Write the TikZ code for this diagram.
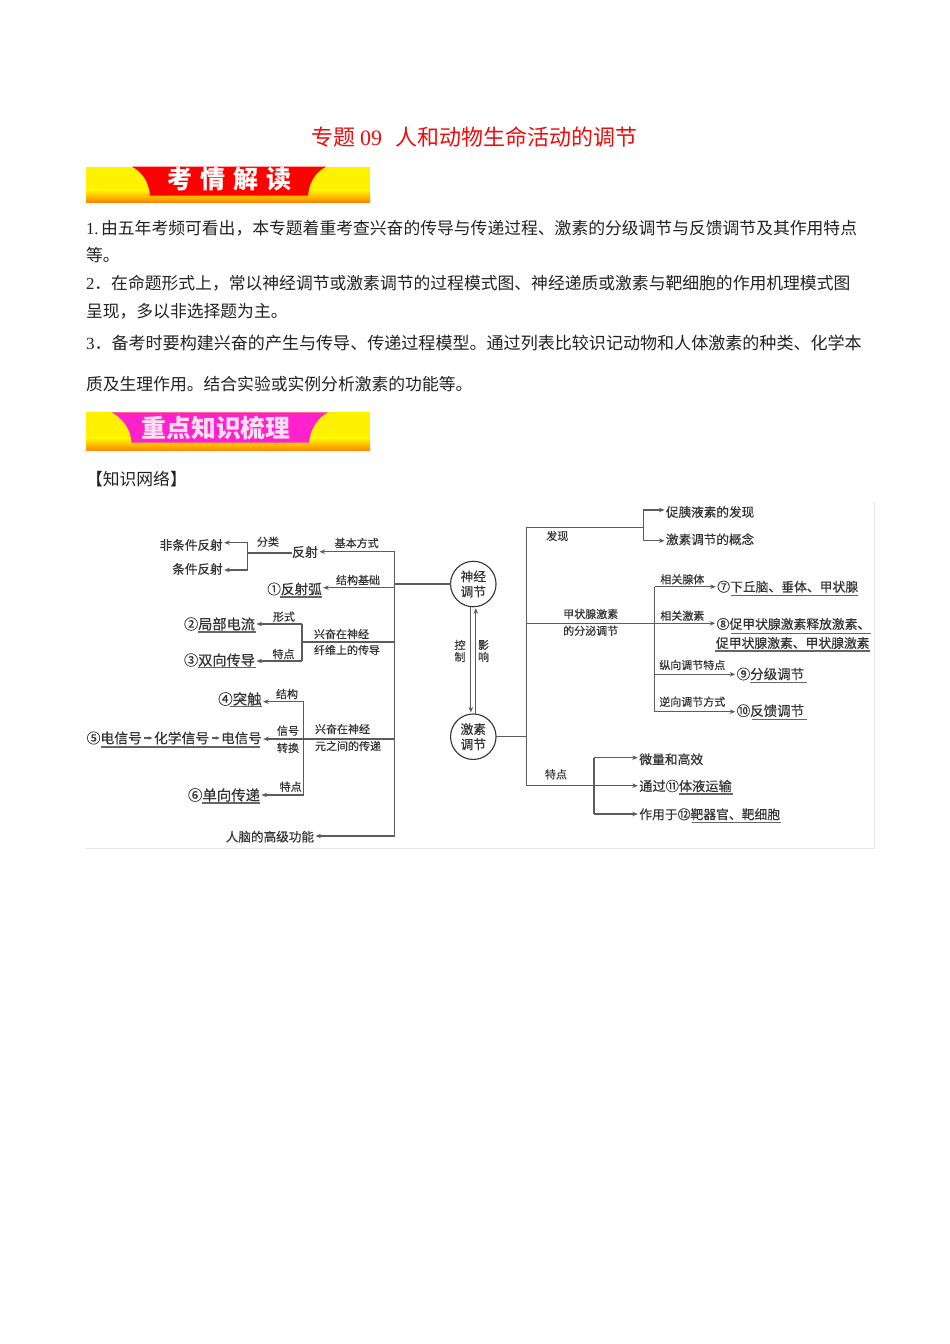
\documentclass[tikz,border=0pt]{standalone}
\usepackage{fontspec}
\setmainfont{Liberation Serif}
\newfontfamily\cjk{Noto Sans CJK SC}
\newfontfamily\cjkd[FakeBold=0.35]{Noto Sans CJK SC}
\usetikzlibrary{arrows.meta}
\newcommand{\fp}[1]{\fontsize{#1}{#1}\selectfont\cjk}
\newcommand{\fs}[1]{\fontsize{#1}{#1}\selectfont\cjkd}
\definecolor{ink}{HTML}{333333}
\definecolor{bodyink}{HTML}{222222}
\definecolor{titlered}{HTML}{EE0D0D}
\definecolor{banorange}{HTML}{FF8500}
\definecolor{banpink}{HTML}{FF22CC}
\definecolor{bantext}{HTML}{FFE0F2}
\tikzset{
  lab/.style={inner sep=0pt,outer sep=0pt,text=ink,font=\fs{11}},
  big/.style={inner sep=0pt,outer sep=0pt,text=ink,font=\fs{13}},
  para/.style={inner sep=0pt,outer sep=0pt,anchor=west,text=bodyink,font=\fp{16.8}},
  wire/.style={draw=ink!80,line width=1.1pt},
  arr/.style={wire,-{Stealth[length=5.5pt,width=4.5pt]},shorten >=1.5pt},
  uline/.style={draw=ink!75,line width=1.1pt},
  hub/.style={circle,draw=ink,line width=1.1pt,minimum size=45.5pt,inner sep=0pt,outer sep=0pt,align=center,text=ink,font=\fs{12.7}},
}
\begin{document}
\begin{tikzpicture}[x=1pt,y=-1pt]
\useasboundingbox (0,0) rectangle (950,1344);
\fill[white] (0,0) rectangle (950,1344);

% title
\node[inner sep=0pt,anchor=west,text=titlered,font=\fp{22}] (title) at (311.5,137) {专题\hspace{4.5pt}{\rmfamily 09}\hspace{13pt}人和动物生命活动的调节};

% banner 1
\fill[yellow] (86,166.5) rectangle (370,202);
\shade[top color=yellow,bottom color=banorange] (86,189) rectangle (370,202);
\fill[red] (131.5,166.5) .. controls (143,172) and (149,183) .. (150,195.5) -- (308,195.5) .. controls (309,183) and (315,172) .. (326.5,166.5) -- cycle;
\node[inner sep=0pt,text=white,font=\fp{25}\bfseries] (ban1) at (229,179.5) {考\hspace{8pt}情\hspace{8pt}解\hspace{8pt}读};

% paragraphs
\node[para] (p1) at (86,228) {{\rmfamily 1.}\hspace{2.5pt}由五年考频可看出，本专题着重考查兴奋的传导与传递过程、激素的分级调节与反馈调节及其作用特点};
\node[para] (p2) at (86,255) {等。};
\node[para] (p3) at (86,283) {{\rmfamily 2}．在命题形式上，常以神经调节或激素调节的过程模式图、神经递质或激素与靶细胞的作用机理模式图};
\node[para] (p4) at (86,311) {呈现，多以非选择题为主。};
\node[para,font=\fp{17.05}] (p5) at (86,343) {{\rmfamily 3}．备考时要构建兴奋的产生与传导、传递过程模型。通过列表比较识记动物和人体激素的种类、化学本};
\node[para] (p6) at (86,384) {质及生理作用。结合实验或实例分析激素的功能等。};

% banner 2
\fill[yellow] (86,412.3) rectangle (370,450.7);
\shade[top color=yellow,bottom color=banorange] (86,437) rectangle (370,450.7);
\fill[banpink] (111.5,412.3) .. controls (123,418) and (131,430) .. (131.5,442.5) -- (309,442.5) .. controls (310,430) and (317,418) .. (328,412.3) -- cycle;
\node[inner sep=0pt,text=bantext,font=\fp{24.8}\bfseries] (ban2) at (216,428.5) {重点知识梳理};

\node[para] (kw) at (86,479) {【知识网络】};

% figure frame
\draw[black!10,line width=0.8pt] (86,848) -- (874,848) -- (874,502);

% hubs
\node[hub] (nerve) at (473.3,584) {神经\\[2.5pt]调节};
\node[hub] (horm) at (473.3,736.7) {激素\\[2.5pt]调节};
\node[lab,align=center] (ctrl) at (460,651) {控\\[1pt]制};
\node[lab,align=center] (infl) at (483.5,651) {影\\[1pt]响};
\draw[arr] ([xshift=-2.5pt]nerve.south) -- ([xshift=-2.5pt]horm.north);
\draw[arr] ([xshift=2.5pt]horm.north) -- ([xshift=2.5pt]nerve.south);

% left tree coordinates
\coordinate (tTop) at (394.7,551.7);
\coordinate (tArc) at (394.7,587.7);
\coordinate (tHub) at (394.7,584);
\coordinate (tFib) at (394.7,642);
\coordinate (tSyn) at (394.7,739);
\coordinate (tBot) at (394.7,836);
\coordinate (bFib) at (302,642);
\coordinate (bFibT) at (302,624);
\coordinate (bFibB) at (302,661);
\coordinate (bSyn) at (303.7,739);
\coordinate (bSynT) at (303.7,701.7);
\coordinate (bSynB) at (303.7,795);
\coordinate (bRef) at (247.7,553);
\coordinate (bRefT) at (247.7,542.7);
\coordinate (bRefB) at (247.7,570);

% left nodes
\node[big,anchor=east,font=\fs{12.6}] (n1) at (222.7,545) {非条件反射};
\node[big,anchor=east,font=\fs{12.6}] (n2) at (222.7,569) {条件反射};
\node[big,font=\fs{13}] (refl) at (305,552) {反射};
\node[lab] at (268,541.7) {分类};
\node[lab] at (356.7,543) {基本方式};
\node[lab] at (358,580) {结构基础};
\node[big,anchor=east,font=\fs{13.6}] (a1) at (321.7,589) {①反射弧};
\node[lab] at (284,616.7) {形式};
\node[lab,anchor=west] at (314,634) {兴奋在神经};
\node[lab,anchor=west] at (314,650) {纤维上的传导};
\node[big,anchor=east,font=\fs{14.2}] (a2) at (255,624) {②局部电流};
\node[big,anchor=east,font=\fs{14.2}] (a3) at (255,660) {③双向传导};
\node[lab] at (283.5,654) {特点};
\node[lab] at (287,694) {结构};
\node[big,anchor=east,font=\fs{14.5}] (a4) at (261.7,699) {④突触};
\node[big,anchor=west,font=\fs{13.8}] (a5a) at (86.7,738) {⑤电信号};
\node[big,anchor=west,font=\fs{13.8}] (a5b) at (154,738) {化学信号};
\node[big,anchor=east,font=\fs{13.5}] (a5c) at (261.7,738) {电信号};
\node[lab] at (288,730.7) {信号};
\node[lab] at (288,748) {转换};
\node[lab,anchor=west] at (315,729) {兴奋在神经};
\node[lab,anchor=west] at (315,746) {元之间的传递};
\node[lab] at (290.7,786.7) {特点};
\node[big,anchor=east,font=\fs{14.4}] (a6) at (260,795) {⑥单向传递};
\node[big,anchor=east,font=\fs{12.6}] (a7) at (314,836.7) {人脑的高级功能};

% left connectors
\draw[wire] (tHub) -- (tHub -| nerve.west);
\draw[wire] (tBot) -- (tTop);
\draw[arr] (tTop) -- (tTop -| refl.east);
\draw[arr] (tArc) -- (tArc -| a1.east);
\draw[arr] (tBot) -- (tBot -| a7.east);
\draw[wire] (tFib) -- (bFib);
\draw[wire] (bFibT) -- (bFibB);
\draw[arr] (bFibT) -- (bFibT -| a2.east);
\draw[arr] (bFibB) -- (bFibB -| a3.east);
\draw[arr] (tSyn) -- (tSyn -| a5c.east);
\draw[wire] (bSynT) -- (bSynB);
\draw[arr] (bSynT) -- (bSynT -| a4.east);
\draw[arr] (bSynB) -- (bSynB -| a6.east);
\draw[wire] (refl.west |- bRef) -- (bRef);
\draw[wire] (bRefT) -- (bRefB);
\draw[arr] (bRefT) -- (bRefT -| n1.east);
\draw[arr] (bRefB) -- (bRefB -| n2.east);
\draw[wire,-{Stealth[length=4pt,width=3.5pt]},shorten >=1.5pt,shorten <=2.5pt] (a5a.east) -- (a5b.west);
\draw[wire,-{Stealth[length=4pt,width=3.5pt]},shorten >=1.5pt,shorten <=2.5pt] (a5b.east) -- (a5c.west);

% left underlines
\draw[uline] (280,597) -- (321.7,597);
\draw[uline] (197.5,632) -- (255.7,632);
\draw[uline] (197.5,667.7) -- (255.7,667.7);
\draw[uline] (230,706.7) -- (261.7,706.7);
\draw[uline] (100.7,747) -- (260,747);
\draw[uline] (201.7,803) -- (260,803);

% right tree coordinates
\coordinate (rTop) at (526.7,527.3);
\coordinate (rMid) at (526.7,623.3);
\coordinate (rHub) at (526.7,736.7);
\coordinate (rBot) at (526.7,785.7);
\coordinate (b1) at (643.3,527.3);
\coordinate (b1T) at (643.3,510);
\coordinate (b1B) at (643.3,540.7);
\coordinate (b2) at (654.7,623.3);
\coordinate (b2T) at (654.7,586.7);
\coordinate (b2a) at (654.7,674.3);
\coordinate (b2B) at (654.7,711.7);
\coordinate (b3) at (594,785.7);
\coordinate (b3T) at (594,757.7);
\coordinate (b3B) at (594,814);

% right nodes
\node[big,anchor=west,font=\fs{12.6}] (r1) at (666,512) {促胰液素的发现};
\node[big,anchor=west,font=\fs{12.6}] (r2) at (666,539.3) {激素调节的概念};
\node[lab] at (557.3,536) {发现};
\node[lab] at (590.7,614) {甲状腺激素};
\node[lab] at (590.7,630.7) {的分泌调节};
\node[lab] at (682.3,579.3) {相关腺体};
\node[lab] at (682.3,615.7) {相关激素};
\node[lab] at (692.3,665) {纵向调节特点};
\node[lab] at (692.3,701.7) {逆向调节方式};
\node[big,anchor=west,font=\fs{12.8}] (r7) at (717.3,586.7) {⑦下丘脑、垂体、甲状腺};
\node[big,anchor=west,font=\fs{12.8}] (r8) at (716.7,624) {⑧促甲状腺激素释放激素、};
\node[big,anchor=west,font=\fs{12.8}] (r8b) at (716,643) {促甲状腺激素、甲状腺激素};
\node[big,anchor=west,font=\fs{13.5}] (r9) at (736.7,674) {⑨分级调节};
\node[big,anchor=west,font=\fs{13.5}] (r10) at (736.7,710.7) {⑩反馈调节};
\node[lab] at (556,774.3) {特点};
\node[big,anchor=west,font=\fs{12.8}] (r11) at (639.3,759.3) {微量和高效};
\node[big,anchor=west,font=\fs{13.2}] (r12) at (639.3,786) {通过⑪体液运输};
\node[big,anchor=west,font=\fs{12.8}] (r13) at (639.3,814.3) {作用于⑫靶器官、靶细胞};

% right connectors
\draw[wire] (horm.east |- rHub) -- (rHub);
\draw[wire] (rTop) -- (rBot);
\draw[wire] (rTop) -- (b1);
\draw[wire] (b1T) -- (b1B);
\draw[arr] (b1T) -- (b1T -| r1.west);
\draw[arr] (b1B) -- (b1B -| r2.west);
\draw[arr] (rMid) -- (rMid -| r8.west);
\draw[wire] (b2T) -- (b2B);
\draw[arr] (b2T) -- (b2T -| r7.west);
\draw[arr] (b2a) -- (b2a -| r9.west);
\draw[arr] (b2B) -- (b2B -| r10.west);
\draw[arr] (rBot) -- (rBot -| r12.west);
\draw[wire] (b3T) -- (b3B);
\draw[arr] (b3T) -- (b3T -| r11.west);
\draw[arr] (b3B) -- (b3B -| r13.west);

% right underlines
\draw[uline] (731,595.7) -- (858,595.7);
\draw[uline] (731,633.3) -- (870.7,633.3);
\draw[uline] (715,651) -- (870,651);
\draw[uline] (750,682.3) -- (806.7,682.3);
\draw[uline] (751.7,719.3) -- (806.7,719.3);
\draw[uline] (679.3,794) -- (733.3,794);
\draw[uline] (691.7,822.3) -- (780.7,822.3);
\end{tikzpicture}
\end{document}
